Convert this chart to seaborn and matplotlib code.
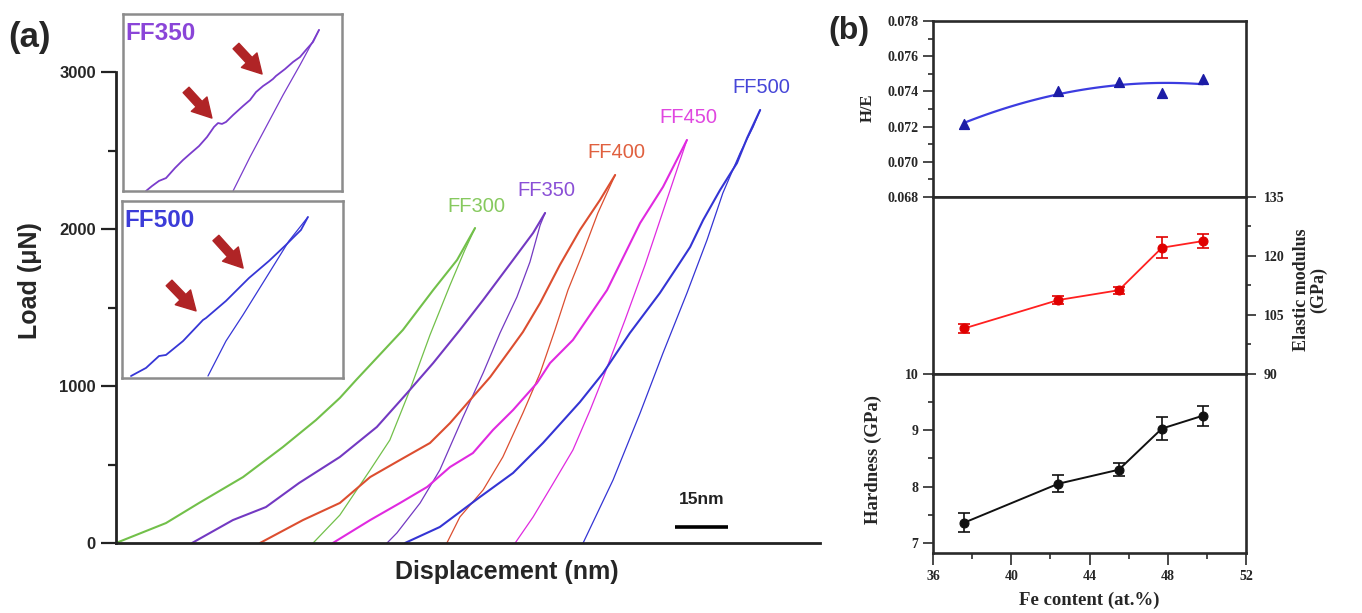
import matplotlib
matplotlib.use("Agg")
import matplotlib.pyplot as plt
from matplotlib.ticker import MultipleLocator, FormatStrFormatter
import seaborn as sns

sns.set_theme(style="ticks")
plt.rcParams['font.family'] = ['Liberation Sans', 'DejaVu Sans']

# ---------------- (a) load-displacement curves (nm, uN) ----------------
samples = ["FF300", "FF350", "FF400", "FF450", "FF500"]
line_colors = ["#72c04a", "#7339c2", "#dc4e30", "#e02ae0", "#3434d4"]
text_colors = ["#86c95e", "#8a4fd6", "#e0603f", "#e047e0", "#4646d8"]

ff300_load_h = [0, 14.2, 23.6, 36.1, 47.4, 56.8, 63.6, 68.2, 73.0, 81.5, 90.1, 96.9, 102.0]
ff300_load_p = [0, 127, 255, 420, 611, 783, 924, 1038, 1153, 1357, 1611, 1803, 2006]
ff300_unload_h = [56.0, 63.6, 72.2, 77.8, 83.5, 89.2, 94.9, 99.1, 102.0]
ff300_unload_p = [0, 178, 465, 656, 975, 1325, 1643, 1866, 2006]

ff350_load_h = [21.6, 33.2, 42.6, 52.0, 63.6, 74.1, 82.7, 90.1, 97.7, 104.3, 112.8, 118.5, 121.9]
ff350_load_p = [0, 146, 229, 382, 548, 739, 955, 1146, 1357, 1548, 1803, 1975, 2102]
ff350_unload_h = [77.0, 79.8, 86.4, 92.0, 98.6, 104.3, 109.1, 113.9, 117.6, 120.5, 121.9]
ff350_unload_p = [0, 64, 255, 465, 803, 1083, 1338, 1567, 1790, 2025, 2102]

ff400_load_h = [40.9, 53.1, 63.6, 72.2, 80.7, 89.2, 94.9, 100.6, 106.3, 111.9, 115.6, 120.5, 126.1, 131.8, 137.5, 141.8]
ff400_load_p = [0, 146, 255, 420, 529, 637, 764, 911, 1057, 1229, 1344, 1529, 1771, 1994, 2185, 2344]
ff400_unload_h = [94.0, 97.7, 104.3, 109.9, 115.6, 120.5, 124.7, 128.4, 132.4, 136.9, 141.8]
ff400_unload_p = [0, 166, 338, 548, 828, 1083, 1357, 1611, 1834, 2102, 2344]

ff450_load_h = [61.6, 72.2, 80.7, 88.4, 94.9, 101.4, 107.1, 112.8, 119.6, 123.3, 129.8, 139.5, 148.9, 155.4, 162.2]
ff450_load_p = [0, 146, 255, 357, 484, 573, 720, 847, 1019, 1146, 1293, 1611, 2038, 2268, 2567]
ff450_unload_h = [113.4, 118.5, 124.1, 129.8, 134.7, 138.9, 144.6, 150.3, 156.0, 162.2]
ff450_unload_p = [0, 166, 376, 592, 847, 1083, 1420, 1771, 2153, 2567]

ff500_load_h = [82.1, 92.0, 103.4, 112.8, 121.3, 131.8, 138.4, 146.0, 154.5, 159.4, 163.1, 166.8, 171.6, 176.4, 179.3, 183.0]
ff500_load_p = [0, 102, 293, 446, 637, 898, 1083, 1338, 1592, 1758, 1885, 2057, 2248, 2420, 2580, 2758]
ff500_unload_h = [132.7, 141.2, 148.9, 155.4, 162.2, 167.9, 172.4, 177.3, 181.0, 183.0]
ff500_unload_p = [0, 401, 828, 1210, 1592, 1930, 2229, 2484, 2650, 2758]

# magnified views of the loading curves near maximum load (pop-in events)
inset350_load_h = [93.03, 94.03, 95.20, 96.37, 97.87, 99.20, 100.54, 101.87, 103.20, 104.37, 105.04,
                   105.70, 106.37, 107.54, 109.20, 110.37, 111.37, 112.54, 113.54, 114.20, 114.70,
                   116.20, 117.54, 118.70, 119.70, 120.87, 121.87]
inset350_load_p = [1200, 1228, 1257, 1273, 1330, 1375, 1415, 1454, 1505, 1562, 1584,
                   1579, 1590, 1629, 1680, 1714, 1759, 1793, 1816, 1833, 1850,
                   1889, 1929, 1957, 1997, 2042, 2110]
inset350_unload_h = [107.54, 110.37, 113.04, 115.87, 118.70, 121.87]
inset350_unload_p = [1200, 1392, 1562, 1742, 1912, 2110]

inset500_load_h = [158.92, 160.96, 162.72, 163.67, 165.98, 168.69, 169.10, 171.81, 174.93,
                   177.65, 179.95, 180.90, 181.99, 182.94]
inset500_load_p = [1713, 1766, 1844, 1851, 1942, 2080, 2093, 2205, 2355, 2467, 2572, 2618, 2670, 2755]
inset500_unload_h = [169.37, 171.81, 174.12, 177.24, 180.36, 182.94]
inset500_unload_p = [1713, 1942, 2113, 2355, 2598, 2755]

# ---------------- (b) mechanical properties vs Fe content ----------------
fe_content = [37.6, 42.4, 45.5, 47.7, 49.8]
h_over_e = [0.07215, 0.0740, 0.07455, 0.0739, 0.0747]
elastic_modulus = [101.6, 108.8, 111.3, 122.1, 123.8]
elastic_err = [1.2, 1.0, 0.9, 2.7, 1.8]
hardness = [7.36, 8.05, 8.30, 9.03, 9.26]
hardness_err = [0.17, 0.15, 0.12, 0.21, 0.18]

W, H = 1362, 613
fig = plt.figure(figsize=(W / 100, H / 100), dpi=100)
fig.patch.set_facecolor("white")


def frac(x0, y0, x1, y1):
    return [x0 / W, 1 - y1 / H, (x1 - x0) / W, (y1 - y0) / H]


# ---- panel (a) ----
ax = fig.add_axes(frac(116, 72, 820, 543))
curves = [
    (ff300_load_h, ff300_load_p, ff300_unload_h, ff300_unload_p),
    (ff350_load_h, ff350_load_p, ff350_unload_h, ff350_unload_p),
    (ff400_load_h, ff400_load_p, ff400_unload_h, ff400_unload_p),
    (ff450_load_h, ff450_load_p, ff450_unload_h, ff450_unload_p),
    (ff500_load_h, ff500_load_p, ff500_unload_h, ff500_unload_p),
]
for name, col, tcol, (lh, lp, uh, up) in zip(samples, line_colors, text_colors, curves):
    sns.lineplot(x=lh, y=lp, ax=ax, color=col, lw=1.5, sort=False, estimator=None)
    sns.lineplot(x=uh, y=up, ax=ax, color=col, lw=0.9, sort=False, estimator=None)
    ax.annotate(name, xy=(lh[-1], lp[-1]), xytext=(1, 9), textcoords="offset points",
                ha="center", va="bottom", color=tcol, fontsize=14.5)

ax.set_xlim(0, 200)
ax.set_ylim(0, 3000)
ax.set_xticks([])
ax.yaxis.set_major_locator(MultipleLocator(1000))
ax.yaxis.set_minor_locator(MultipleLocator(500))
ax.tick_params(axis="y", which="major", direction="out", length=10.5, width=1.6,
               labelsize=12, pad=4, color="#222222")
ax.tick_params(axis="y", which="minor", direction="out", length=5.5, width=1.6, color="#222222")
for lab in ax.get_yticklabels():
    lab.set_fontweight("bold")
for side in ("top", "right"):
    ax.spines[side].set_visible(False)
for side in ("left", "bottom"):
    ax.spines[side].set_linewidth(2.0)
    ax.spines[side].set_color("#222222")
ax.set_xlabel("Displacement (nm)", fontsize=18, fontweight="bold", va="center")
ax.set_ylabel("Load (\u03bcN)", fontsize=18, fontweight="bold", va="center")
ax.xaxis.set_label_coords(0.555, -0.062)
ax.yaxis.set_label_coords(-0.122, 0.558)

# 15 nm scale bar
ax.plot([158.8, 173.8], [102, 102], color="black", lw=2.6, solid_capstyle="butt")
ax.text(166.3, 228, "15nm", ha="center", va="bottom", fontsize=12.5, fontweight="bold",
        color="#222222")

fig.text(8 / W, 1 - 38 / H, "(a)", fontsize=25, fontweight="bold", ha="left", va="center")


def draw_inset(rect, lh, lp, uh, up, xlim, ylim, col, label, tcol, arrows):
    axi = fig.add_axes(rect)
    sns.lineplot(x=lh, y=lp, ax=axi, color=col, lw=1.3, sort=False, estimator=None)
    sns.lineplot(x=uh, y=up, ax=axi, color=col, lw=0.9, sort=False, estimator=None)
    axi.set_xlim(*xlim)
    axi.set_ylim(*ylim)
    axi.set_xticks([])
    axi.set_yticks([])
    axi.set_xlabel("")
    axi.set_ylabel("")
    for s in axi.spines.values():
        s.set_color("#8c8c8c")
        s.set_linewidth(1.8)
    axi.text(0.012, 0.955, label, transform=axi.transAxes, ha="left", va="top",
             fontsize=17.5, fontweight="bold", color=tcol)
    for tail, head in arrows:
        axi.annotate("", xy=head, xytext=tail, xycoords="axes fraction",
                     arrowprops=dict(arrowstyle="simple,head_width=0.9,head_length=0.8,tail_width=0.34",
                                     fc="#b02426", ec="#b02426", mutation_scale=17,
                                     shrinkA=0, shrinkB=0))
    return axi


draw_inset(frac(123, 14, 342, 191), inset350_load_h, inset350_load_p,
           inset350_unload_h, inset350_unload_p, (89.2, 125.7), (1200, 2200),
           "#7a3ccc", "FF350", "#8a45d8",
           [((0.516, 0.819), (0.635, 0.661)), ((0.288, 0.571), (0.406, 0.412))])
draw_inset(frac(122, 201, 343, 378), inset500_load_h, inset500_load_p,
           inset500_unload_h, inset500_unload_p, (157.7, 187.7), (1700, 2860),
           "#3636d6", "FF500", "#3c3cd8",
           [((0.425, 0.791), (0.548, 0.621)), ((0.213, 0.537), (0.335, 0.379))])

# ---- panel (b) ----
serif = ["Liberation Serif", "DejaVu Serif"]
ax_he = fig.add_axes(frac(933, 21, 1246, 197))
ax_e = fig.add_axes(frac(933, 197, 1246, 374))
ax_h = fig.add_axes(frac(933, 374, 1246, 553))

sns.regplot(x=fe_content, y=h_over_e, order=2, ci=None, truncate=True, ax=ax_he, marker="^",
            scatter_kws=dict(s=50, color="#1c1ca6", edgecolor="#1c1ca6", alpha=1, zorder=3),
            line_kws=dict(color="#3c3ce0", lw=1.6))
ax_he.set_ylim(0.068, 0.078)
ax_he.yaxis.set_major_locator(MultipleLocator(0.002))
ax_he.yaxis.set_minor_locator(MultipleLocator(0.001))
ax_he.yaxis.set_major_formatter(FormatStrFormatter("%.3f"))

sns.lineplot(x=fe_content, y=elastic_modulus, ax=ax_e, color="#ff2020", lw=1.3, marker="o",
             markersize=6.5, markeredgecolor="#e00000", markerfacecolor="#e00000")
ax_e.errorbar(fe_content, elastic_modulus, yerr=elastic_err, fmt="none", ecolor="#e00000",
              elinewidth=1.2, capsize=4, capthick=1.2)
ax_e.set_ylim(90, 135)
ax_e.yaxis.tick_right()
ax_e.yaxis.set_major_locator(MultipleLocator(15))
ax_e.yaxis.set_minor_locator(MultipleLocator(7.5))

sns.lineplot(x=fe_content, y=hardness, ax=ax_h, color="#111111", lw=1.4, marker="o",
             markersize=6.5, markeredgecolor="#111111", markerfacecolor="#111111")
ax_h.errorbar(fe_content, hardness, yerr=hardness_err, fmt="none", ecolor="#111111",
              elinewidth=1.2, capsize=4, capthick=1.2)
ax_h.set_ylim(6.82, 10)
ax_h.yaxis.set_major_locator(MultipleLocator(1))
ax_h.yaxis.set_minor_locator(MultipleLocator(0.5))
ax_h.xaxis.set_major_locator(MultipleLocator(4))
ax_h.xaxis.set_minor_locator(MultipleLocator(2))

for a in (ax_he, ax_e, ax_h):
    a.set_xlim(36, 52)
    for s in a.spines.values():
        s.set_visible(True)
        s.set_linewidth(1.9)
        s.set_color("#2a2a2a")
    a.tick_params(which="major", direction="out", length=7, width=1.2, color="#2a2a2a",
                  labelsize=10, pad=3.5)
    a.tick_params(which="minor", direction="out", length=3.8, width=1.2, color="#2a2a2a")
    a.set_xlabel("")
    a.set_ylabel("")

for a in (ax_he, ax_e):
    a.tick_params(axis="x", which="both", bottom=False, labelbottom=False)
ax_h.tick_params(axis="x", which="major", length=8.5, pad=4)
ax_h.tick_params(axis="x", which="minor", length=4.5)
ax_he.tick_params(axis="y", which="both", left=True, right=False)
ax_e.tick_params(axis="y", which="both", left=False, right=True, labelright=True, labelleft=False)
ax_e.tick_params(axis="y", which="major", pad=6)
ax_h.tick_params(axis="y", which="both", left=True, right=False)

for a in (ax_he, ax_e, ax_h):
    for lab in a.get_xticklabels() + a.get_yticklabels():
        lab.set_family(serif)
        lab.set_fontweight("bold")

ax_he.set_ylabel("H/E", fontsize=12, fontweight="bold", family=serif, va="center")
ax_he.yaxis.set_label_coords(-0.208, 0.506)
ax_e.yaxis.set_label_position("right")
ax_e.set_ylabel("Elastic modulus\n(GPa)", fontsize=13, fontweight="bold", family=serif,
                rotation=90, linespacing=1.0, va="center")
ax_e.yaxis.set_label_coords(1.204, 0.475)
ax_h.set_ylabel("Hardness (GPa)", fontsize=13.5, fontweight="bold", family=serif, va="center")
ax_h.yaxis.set_label_coords(-0.192, 0.52)
ax_h.set_xlabel("Fe content (at.%)", fontsize=13.5, fontweight="bold", family=serif, va="center")
ax_h.xaxis.set_label_coords(0.5, -0.263)

fig.text(828 / W, 1 - 31 / H, "(b)", fontsize=23, fontweight="bold", ha="left", va="center")

fig.savefig("out.png", dpi=100, facecolor="white")
